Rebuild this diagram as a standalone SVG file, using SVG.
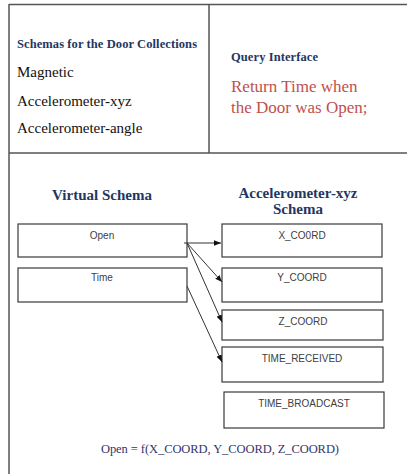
<svg xmlns="http://www.w3.org/2000/svg" width="407" height="474" viewBox="0 0 407 474">
<style>
.frame{stroke:#555;stroke-width:1.5;fill:none}
.box{fill:#fff;stroke:#3a3a3a;stroke-width:1.2}
.lbl{font-family:"Liberation Sans",Arial,sans-serif;font-size:10px;fill:#404040;text-anchor:middle}
.ttl{font-family:"Liberation Serif","Times New Roman",serif;font-weight:bold;fill:#1f3763}
.item{font-family:"Liberation Serif","Times New Roman",serif;font-size:15px;fill:#111}
.red{font-family:"Liberation Serif","Times New Roman",serif;font-size:17px;fill:#c0504d}
.conn{stroke:#333;stroke-width:1;fill:none;marker-end:url(#ah)}
</style>
<defs>
<marker id="ah" viewBox="0 0 10 10" refX="10" refY="5" markerWidth="7" markerHeight="7" markerUnits="userSpaceOnUse" orient="auto">
<path d="M0,1 L10,5 L0,9 z" fill="#111"/>
</marker>
</defs>
<rect width="407" height="474" fill="#fff"/>
<g id="frame">
<line class="frame" x1="9" y1="4.5" x2="407" y2="4.5"/>
<line class="frame" x1="9" y1="4" x2="9" y2="474"/>
<line class="frame" x1="209" y1="4" x2="209" y2="153"/>
<line class="frame" x1="9" y1="153" x2="407" y2="153"/>
</g>
<g id="schemas-panel">
<text class="ttl" x="17" y="48" font-size="12.5" textLength="180" lengthAdjust="spacing">Schemas for the Door Collections</text>
<text class="item" x="17" y="77">Magnetic</text>
<text class="item" x="17" y="106">Accelerometer-xyz</text>
<text class="item" x="17" y="133">Accelerometer-angle</text>
</g>
<g id="query-panel">
<text class="ttl" x="231" y="61" font-size="12.5" textLength="87" lengthAdjust="spacing">Query Interface</text>
<text class="red" x="231" y="92">Return Time when</text>
<text class="red" x="231" y="113">the Door was Open;</text>
</g>
<g id="headers">
<text class="ttl" x="102" y="200" font-size="15" text-anchor="middle">Virtual Schema</text>
<text class="ttl" x="298" y="198" font-size="15" text-anchor="middle">Accelerometer-xyz</text>
<text class="ttl" x="298" y="214" font-size="15" text-anchor="middle">Schema</text>
</g>
<g id="node-open">
<rect class="box" x="18" y="224" width="169" height="33"/>
<text class="lbl" x="102" y="239">Open</text>
</g>
<g id="node-time">
<rect class="box" x="18" y="268" width="169" height="34"/>
<text class="lbl" x="102" y="281">Time</text>
</g>
<g id="node-x">
<rect class="box" x="222" y="224" width="160" height="33"/>
<text class="lbl" x="302" y="239">X_CO0RD</text>
</g>
<g id="node-y">
<rect class="box" x="222" y="268" width="160" height="34"/>
<text class="lbl" x="302" y="281">Y_COORD</text>
</g>
<g id="node-z">
<rect class="box" x="222" y="310" width="161" height="30"/>
<text class="lbl" x="303" y="325">Z_COORD</text>
</g>
<g id="node-time-received">
<rect class="box" x="222" y="347" width="161" height="35"/>
<text class="lbl" x="302" y="362">TIME_RECEIVED</text>
</g>
<g id="node-time-broadcast">
<rect class="box" x="224" y="392" width="160" height="36"/>
<text class="lbl" x="304" y="407">TIME_BROADCAST</text>
</g>
<g id="connectors">
<line class="conn" x1="184" y1="243" x2="221" y2="243"/>
<line class="conn" x1="187" y1="243" x2="222" y2="282"/>
<line class="conn" x1="187" y1="243" x2="222" y2="322"/>
<line class="conn" x1="187" y1="286" x2="222" y2="362"/>
</g>
<g id="formula">
<text x="220" y="453" font-family="'Liberation Serif','Times New Roman',serif" font-size="12.5" fill="#35356b" text-anchor="middle" textLength="238" lengthAdjust="spacing">Open = f(X_COORD, Y_COORD, Z_COORD)</text>
</g>
</svg>
